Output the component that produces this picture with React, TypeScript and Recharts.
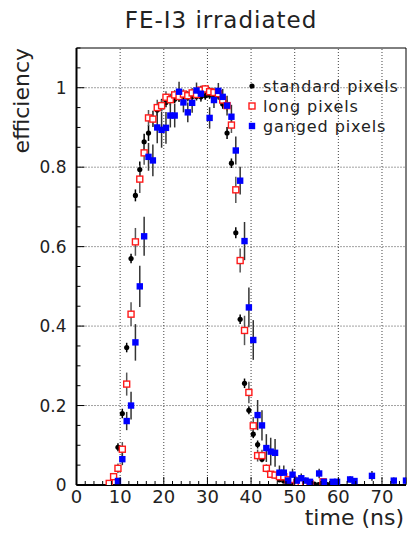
import React from "react";
import {ScatterChart, Scatter, XAxis, YAxis, ErrorBar, ReferenceLine, ReferenceArea, Legend} from "recharts";

// standard pixels
const stdTime = [7.5, 8.5, 9.5, 10.5, 11.5, 12.5, 13.5, 14.5, 15.5, 16.5, 17.5, 18.5, 19.5, 20.5, 21.5, 22.5, 23.5, 24.5, 25.5, 26.5, 27.5, 28.5, 29.5, 30.5, 31.5, 32.5, 33.5, 34.5, 35.5, 36.5, 37.5, 38.5, 39.5, 40.5, 41.5, 42.5, 43.5, 44.5, 45.5, 46.5, 47.5, 48.5, 49.5, 50.5, 51.5, 52.5, 53.5, 54.5, 55.5, 56.5, 57.5];
const stdEff = [0.003, 0.02, 0.095, 0.18, 0.346, 0.57, 0.729, 0.794, 0.864, 0.886, 0.922, 0.944, 0.957, 0.963, 0.97, 0.971, 0.975, 0.977, 0.976, 0.978, 0.978, 0.977, 0.98, 0.982, 0.979, 0.98, 0.959, 0.886, 0.81, 0.635, 0.417, 0.256, 0.188, 0.128, 0.102, 0.065, 0.042, 0.029, 0.023, 0.013, 0.01, 0.008, 0.006, 0.005, 0.004, 0.003, 0.002, 0.002, 0.001, 0.001, 0.001];
const stdErr = [0.004, 0.006, 0.01, 0.012, 0.012, 0.012, 0.015, 0.02, 0.02, 0.02, 0.02, 0.015, 0.015, 0.012, 0.012, 0.01, 0.01, 0.01, 0.01, 0.01, 0.01, 0.01, 0.01, 0.01, 0.01, 0.01, 0.012, 0.015, 0.012, 0.014, 0.012, 0.012, 0.01, 0.01, 0.01, 0.008, 0.006, 0.005, 0.005, 0.004, 0.004, 0.003, 0.003, 0.003, 0.002, 0.002, 0.002, 0.002, 0.001, 0.001, 0.001];

// long pixels
const longTime = [7.5, 8.5, 9.5, 10.5, 11.5, 12.5, 13.5, 14.5, 15.5, 16.5, 17.5, 18.5, 19.5, 20.5, 21.5, 22.5, 23.5, 24.5, 25.5, 26.5, 27.5, 28.5, 29.5, 30.5, 31.5, 32.5, 33.5, 34.5, 35.5, 36.5, 37.5, 38.5, 39.5, 40.5, 41.5, 42.5, 43.5, 44.5, 45.5, 46.5, 47.5, 48.5, 49.5, 50.5, 51.5, 52.5, 53.5, 56.5];
const longEff = [0.004, 0.021, 0.042, 0.09, 0.254, 0.43, 0.612, 0.77, 0.836, 0.924, 0.921, 0.95, 0.955, 0.976, 0.97, 0.982, 0.978, 0.984, 0.98, 0.987, 0.983, 0.994, 0.997, 0.99, 0.988, 0.985, 0.969, 0.955, 0.906, 0.743, 0.565, 0.389, 0.233, 0.149, 0.074, 0.074, 0.042, 0.027, 0.025, 0.021, 0.021, 0.013, 0.014, 0.006, 0.004, 0.004, 0.003, 0.008];
const longErr = [0.004, 0.008, 0.012, 0.018, 0.029, 0.03, 0.035, 0.035, 0.03, 0.02, 0.02, 0.02, 0.015, 0.015, 0.015, 0.012, 0.012, 0.012, 0.012, 0.012, 0.012, 0.01, 0.01, 0.012, 0.012, 0.012, 0.012, 0.015, 0.02, 0.033, 0.03, 0.037, 0.027, 0.022, 0.015, 0.015, 0.01, 0.008, 0.008, 0.007, 0.007, 0.006, 0.006, 0.005, 0.004, 0.004, 0.003, 0.006];

// ganged pixels
const gangTime = [9.5, 10.5, 11.5, 12.5, 13.5, 14.5, 15.5, 16.5, 17.5, 18.5, 19.5, 20.5, 21.5, 22.5, 23.5, 24.5, 25.5, 26.5, 27.5, 28.5, 30.5, 31.5, 32.5, 33.5, 34.5, 35.5, 36.5, 37.5, 38.5, 39.5, 40.5, 41.5, 42.5, 43.5, 44.5, 45.5, 46.5, 47.5, 48.5, 49.5, 50.5, 51.5, 52.5, 53.5, 55.6, 56.7, 58.7, 59.7, 62.7, 63.7, 67.7, 72.7, 75.5];
const gangEff = [0.01, 0.065, 0.161, 0.2, 0.359, 0.5, 0.626, 0.826, 0.817, 0.9, 0.894, 0.899, 0.93, 0.93, 0.99, 0.963, 0.938, 0.962, 0.993, 0.985, 0.924, 0.969, 0.992, 0.977, 0.955, 0.927, 0.842, 0.766, 0.614, 0.447, 0.365, 0.176, 0.15, 0.093, 0.084, 0.081, 0.031, 0.031, 0.011, 0.026, 0.011, 0.017, 0.011, 0.008, 0.029, 0.008, 0.008, 0.008, 0.014, 0.01, 0.023, 0.011, 0.011];
const gangErr = [0.008, 0.015, 0.023, 0.035, 0.046, 0.052, 0.049, 0.035, 0.04, 0.04, 0.045, 0.04, 0.03, 0.03, 0.025, 0.025, 0.025, 0.025, 0.02, 0.02, 0.027, 0.02, 0.02, 0.02, 0.025, 0.03, 0.035, 0.035, 0.048, 0.05, 0.05, 0.038, 0.038, 0.035, 0.035, 0.035, 0.018, 0.018, 0.01, 0.015, 0.01, 0.012, 0.008, 0.006, 0.012, 0.006, 0.006, 0.006, 0.008, 0.006, 0.012, 0.008, 0.008];

const xGrid = [10, 20, 30, 40, 50, 60, 70];
const yGrid = [0.2, 0.4, 0.6, 0.8, 1];
const xTicks = Array.from({length: 38}, (_, i) => i * 2);
const yTicks = Array.from({length: 23}, (_, i) => Math.round(i * 5) / 100);

const X_MAX = 75.5;
const Y_MAX = 1.1;
const FONT = "'DejaVu Sans', sans-serif";

const points = (t: number[], e: number[], err: number[]) =>
    t.map((x, i) => ({t: x, eff: e[i], err: err[i]}));

const stdData = points(stdTime, stdEff, stdErr);
const longData = points(longTime, longEff, longErr);
const gangData = points(gangTime, gangEff, gangErr);

const DotShape = (p: any) => <circle cx={p.cx} cy={p.cy} r={2.6} fill="#000"/>;
const OpenSquare = (p: any) =>
    <rect x={p.cx - 3} y={p.cy - 3} width={6} height={6} fill="#fff" stroke="#ff1a1a" strokeWidth={1.4}/>;
const FullSquare = (p: any) => <rect x={p.cx - 3.2} y={p.cy - 3.2} width={6.4} height={6.4} fill="#0000ff"/>;

function XTick({x, y, payload}: any) {
    const major = payload.value % 10 === 0;
    return (
        <g>
            <line x1={x} y1={y} x2={x} y2={y - (major ? 8 : 4)} stroke="#000" strokeWidth={1}/>
            {major && (
                <text x={x} y={y + 18} textAnchor="middle" fontSize={18} fontFamily={FONT} fill="#222">
                    {payload.value}
                </text>
            )}
        </g>
    );
}

function YTick({x, y, payload}: any) {
    const v = payload.value;
    const major = Math.abs(v / 0.2 - Math.round(v / 0.2)) < 1e-6;
    const label = v === 0 ? "0" : v === 1 ? "1" : v.toFixed(1);
    return (
        <g>
            <line x1={x} y1={y} x2={x + (major ? 8 : 4)} y2={y} stroke="#000" strokeWidth={1}/>
            {major && (
                <text x={x - 10} y={y} textAnchor="end" dominantBaseline="central" fontSize={17}
                      fontFamily={FONT} fill="#222">
                    {label}
                </text>
            )}
        </g>
    );
}

const legendRows = [
    {name: "standard pixels", marker: <circle cx={6} cy={6} r={2.6} fill="#000"/>},
    {name: "long pixels", marker: <rect x={3} y={3} width={6} height={6} fill="#fff" stroke="#ff1a1a" strokeWidth={1.4}/>},
    {name: "ganged pixels", marker: <rect x={2.8} y={2.8} width={6.4} height={6.4} fill="#0000ff"/>},
];

function LegendBox() {
    return (
        <div style={{fontFamily: FONT, fontSize: 16, letterSpacing: 0.9, color: "#222"}}>
            {legendRows.map((r) => (
                <div key={r.name} style={{display: "flex", alignItems: "center", height: 20}}>
                    <svg width={12} height={12} style={{marginRight: 5}}>{r.marker}</svg>
                    <span>{r.name}</span>
                </div>
            ))}
        </div>
    );
}

export default function App() {
    return (
        <div style={{position: "absolute", left: 0, top: 0, width: 409, height: 535, background: "#fff"}}>
            <ScatterChart width={409} height={535} margin={{top: 48, right: 3, bottom: 0, left: 0}}>
                <XAxis type="number" dataKey="t" domain={[0, X_MAX]} ticks={xTicks} interval={0}
                       allowDataOverflow tickSize={0} tickMargin={0} height={50} tick={<XTick/>}
                       axisLine={{stroke: "#000", strokeWidth: 2}}/>
                <YAxis type="number" dataKey="eff" domain={[0, Y_MAX]} ticks={yTicks} interval={0}
                       allowDataOverflow tickSize={0} tickMargin={0} width={76.5} tick={<YTick/>}
                       axisLine={{stroke: "#000", strokeWidth: 2}}/>
                {xGrid.map((v) => (
                    <ReferenceLine key={"x" + v} x={v} stroke="#444" strokeDasharray="1 2" strokeWidth={1}/>
                ))}
                {yGrid.map((v) => (
                    <ReferenceLine key={"y" + v} y={v} stroke="#444" strokeDasharray="1 2" strokeWidth={1}/>
                ))}
                <ReferenceArea x1={0} x2={X_MAX} y1={0} y2={Y_MAX} fill="none" stroke="#000" strokeWidth={1}/>
                <Scatter name="standard pixels" data={stdData} shape={DotShape} isAnimationActive={false}>
                    <ErrorBar dataKey="err" direction="y" width={0} stroke="#000" strokeWidth={1.5}/>
                </Scatter>
                <Scatter name="long pixels" data={longData} shape={OpenSquare} isAnimationActive={false}>
                    <ErrorBar dataKey="err" direction="y" width={0} stroke="#555" strokeWidth={1.5}/>
                </Scatter>
                <Scatter name="ganged pixels" data={gangData} shape={FullSquare} isAnimationActive={false}>
                    <ErrorBar dataKey="err" direction="y" width={0} stroke="#333" strokeWidth={1.5}/>
                </Scatter>
                <Legend layout="horizontal" verticalAlign="middle" align="center" content={<LegendBox/>}
                        wrapperStyle={{left: 246, top: 76, width: "auto"}}/>
                <text x={221} y={28} textAnchor="middle" fontSize={23} letterSpacing={1} fontFamily={FONT}
                      fill="#222">FE-I3 irradiated</text>
                <text x={404} y={525} textAnchor="end" fontSize={22} fontFamily={FONT} fill="#222">time (ns)</text>
                <text transform="translate(29, 48) rotate(-90)" textAnchor="end" fontSize={22} fontFamily={FONT}
                      fill="#222">efficiency</text>
            </ScatterChart>
        </div>
    );
}
